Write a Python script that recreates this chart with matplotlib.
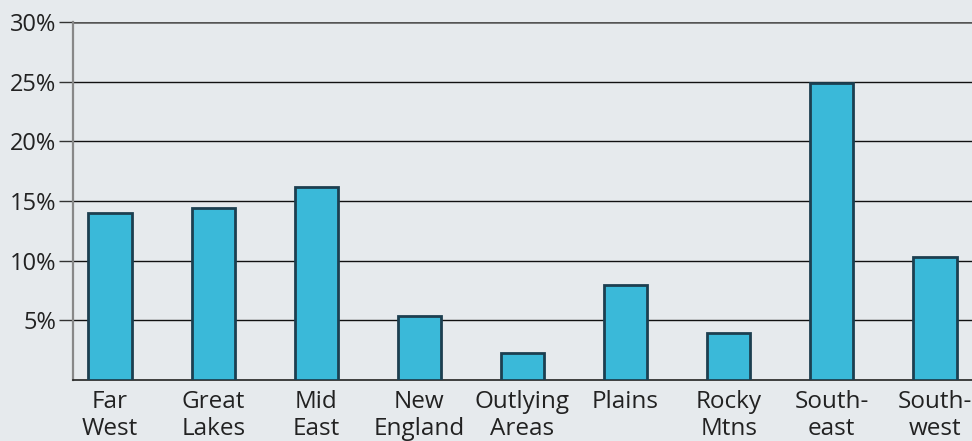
import matplotlib
matplotlib.use("Agg")
import matplotlib.pyplot as plt

regions = ["Far\nWest", "Great\nLakes", "Mid\nEast", "New\nEngland", "Outlying\nAreas",
           "Plains", "Rocky\nMtns", "South-\neast", "South-\nwest"]
shares = [14.0, 14.4, 16.2, 5.4, 2.3, 8.0, 3.9, 24.9, 10.3]
yticks = [5, 10, 15, 20, 25, 30]
ytick_labels = ["5%", "10%", "15%", "20%", "25%", "30%"]

BG = "#e6eaed"
BAR = "#3ab9d9"
EDGE = "#1c3f50"

plt.rcParams["font.family"] = ["Open Sans", "DejaVu Sans"]

fig = plt.figure(figsize=(9.72, 4.41), dpi=100)
fig.patch.set_facecolor(BG)
ax = fig.add_axes([0.0751, 0.1383, 0.9249, 0.8118])
ax.set_facecolor(BG)

x = range(len(regions))
ax.bar(x, shares, width=0.42, color=BAR, edgecolor=EDGE, linewidth=2, zorder=3)

ax.set_xlim(-0.36, len(regions) - 1 + 0.36)
ax.set_ylim(0, 30)
ax.set_yticks(yticks)
ax.set_yticklabels(ytick_labels)
ax.set_xticks(list(x))
ax.set_xticklabels(regions, linespacing=1.18)

for y in yticks:
    if y == 30:
        ax.axhline(y, color="#555555", lw=1.8, zorder=2)
    else:
        ax.axhline(y, color="#111111", lw=1.0, zorder=2)

for s in ("top", "right"):
    ax.spines[s].set_visible(False)
ax.spines["left"].set_color("#888888")
ax.spines["left"].set_linewidth(1.6)
ax.spines["bottom"].set_color("#222222")
ax.spines["bottom"].set_linewidth(1.2)

ax.tick_params(axis="y", length=10, width=1.0, color="#333333", labelsize=17, pad=2,
               labelcolor="#222222")
ax.tick_params(axis="x", length=0, labelsize=17.5, pad=7, labelcolor="#222222")

fig.savefig("out.png", dpi=100, facecolor=BG)
